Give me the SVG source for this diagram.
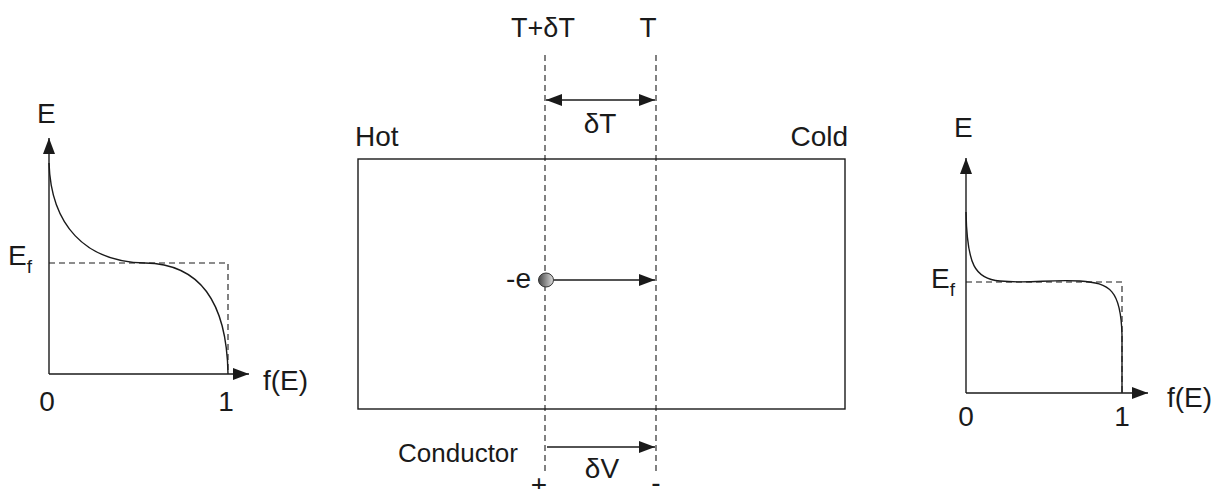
<svg xmlns="http://www.w3.org/2000/svg" width="1220" height="489" viewBox="0 0 1220 489">
<style>
text{font-family:"Liberation Sans",Arial,sans-serif;fill:#1a1a1a;font-size:28px}
.ax{stroke:#1a1a1a;stroke-width:1.4;fill:none}
.dash{stroke:#1a1a1a;stroke-width:1.1;fill:none;stroke-dasharray:6,4}
.crv{stroke:#1a1a1a;stroke-width:1.4;fill:none}
.small{font-size:26px}
.t{font-size:27px}
</style>
<defs>
<marker id="ah" viewBox="0 0 16 12" refX="16" refY="6" markerWidth="16" markerHeight="12" markerUnits="userSpaceOnUse" orient="auto-start-reverse">
<path d="M0,0 L16,6 L0,12 z" fill="#1a1a1a"/>
</marker>
<linearGradient id="eg" x1="0" y1="0" x2="1" y2="0">
<stop offset="0" stop-color="#444"/>
<stop offset="1" stop-color="#ddd"/>
</linearGradient>
</defs>
<g id="left-graph">
<line class="ax" x1="49" y1="374" x2="49" y2="138" marker-end="url(#ah)"/>
<line class="ax" x1="49" y1="374" x2="249" y2="374" marker-end="url(#ah)"/>
<polyline class="dash" points="49,263 228,263 228,374"/>
<path class="crv" d="M49,163 C51,225 85,262 145,263 C205,264 227,310 228,374"/>
<text x="37" y="123">E</text>
<text x="8" y="265">E<tspan font-size="19" dy="8">f</tspan></text>
<text x="263" y="390">f(E)</text>
<text x="47" y="411" text-anchor="middle">0</text>
<text x="226" y="411" text-anchor="middle">1</text>
</g>
<g id="right-graph">
<line class="ax" x1="966" y1="393" x2="966" y2="158" marker-end="url(#ah)"/>
<line class="ax" x1="966" y1="393" x2="1148" y2="393" marker-end="url(#ah)"/>
<polyline class="dash" points="966,282 1122,282 1122,393"/>
<path class="crv" d="M966,212 C967,265 975,279 1000,281 C1030,284 1050,279 1080,281 C1110,283 1121,290 1122,335 L1122,393"/>
<text x="954" y="137">E</text>
<text x="931" y="288">E<tspan font-size="19" dy="8">f</tspan></text>
<text x="1167" y="407">f(E)</text>
<text x="966" y="426" text-anchor="middle">0</text>
<text x="1122" y="426" text-anchor="middle">1</text>
</g>
<g id="conductor">
<rect x="358" y="159" width="487" height="250" fill="none" stroke="#1a1a1a" stroke-width="1.4"/>
<text x="355" y="146">Hot</text>
<text x="848" y="146" text-anchor="end">Cold</text>
<text x="518" y="462" text-anchor="end" class="small">Conductor</text>
</g>
<g id="isotherms">
<line class="dash" x1="545" y1="55" x2="545" y2="472"/>
<line class="dash" x1="656" y1="55" x2="656" y2="472"/>
<text x="543" y="37" text-anchor="middle" class="t">T+δT</text>
<text x="648" y="37" text-anchor="middle">T</text>
</g>
<g id="electron">
<ellipse cx="546" cy="280" rx="7.5" ry="7" fill="url(#eg)" stroke="#333" stroke-width="1"/>
<text x="531" y="288" text-anchor="end">-e</text>
</g>
<g id="connectors">
<line class="ax" x1="546" y1="100" x2="655" y2="100" marker-start="url(#ah)" marker-end="url(#ah)"/>
<line class="ax" x1="554" y1="280" x2="655" y2="280" marker-end="url(#ah)"/>
<line class="ax" x1="547" y1="447" x2="655" y2="447" marker-end="url(#ah)"/>
</g>
<g id="labels">
<text x="600" y="133" text-anchor="middle">δT</text>
<text x="602" y="478" text-anchor="middle">δV</text>
<text x="539" y="494" text-anchor="middle">+</text>
<text x="656" y="492" text-anchor="middle">-</text>
</g>
</svg>
